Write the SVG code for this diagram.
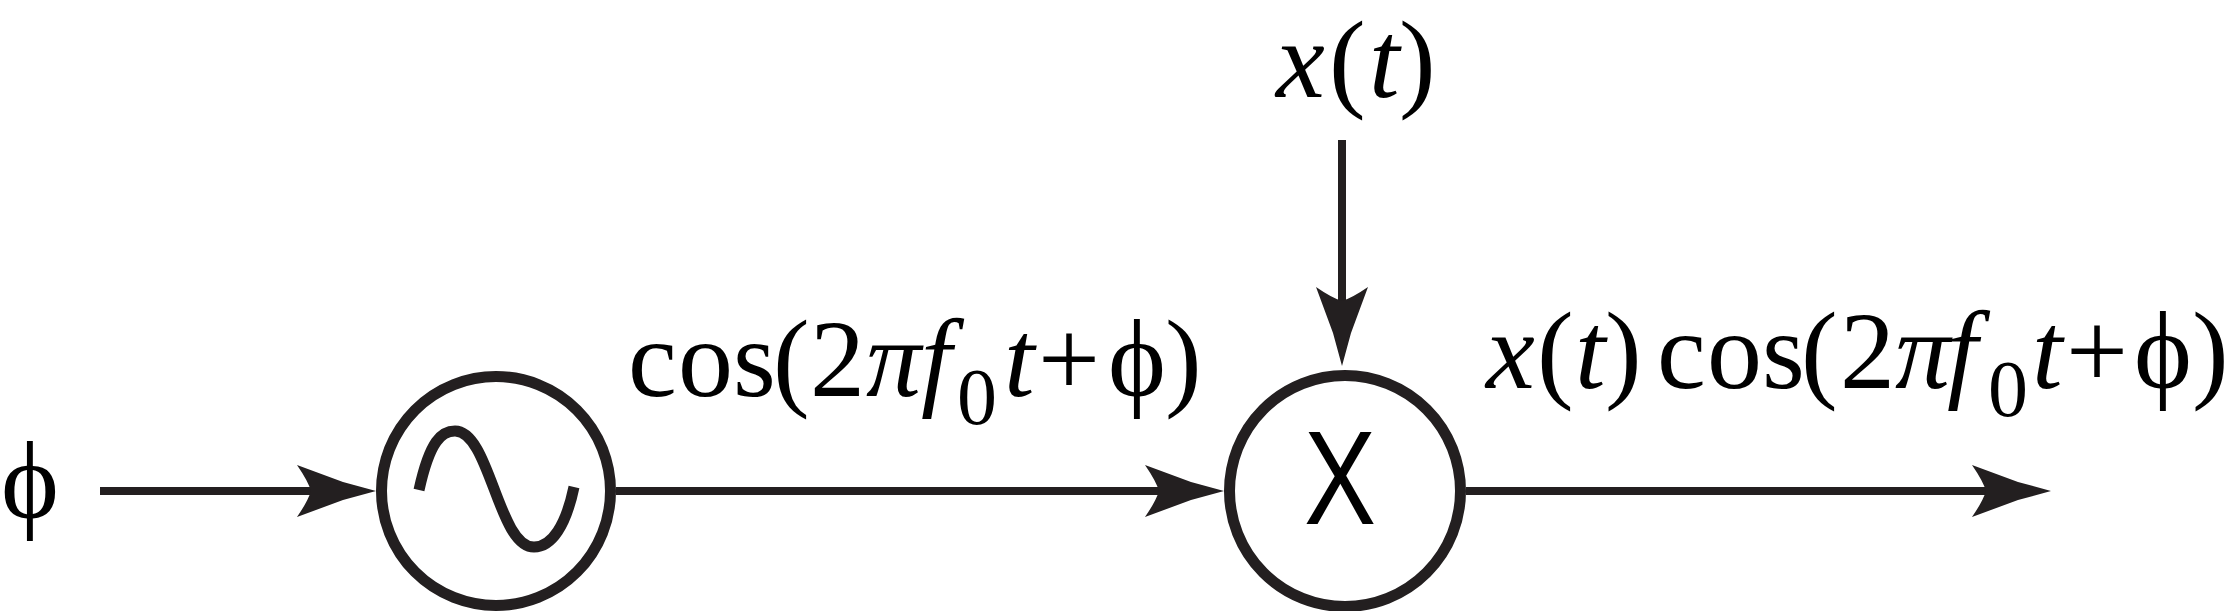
<svg xmlns="http://www.w3.org/2000/svg" width="2236" height="611" viewBox="0 0 2236 611">
<defs>
<marker id="a" markerUnits="userSpaceOnUse" viewBox="-85 -30 90 60" refX="-60" refY="0" markerWidth="90" markerHeight="60" orient="auto" overflow="visible">
<path d="M0 0L-33 -9L-79 -26Q-68 -10 -65 0Q-68 10 -79 26L-33 9Z" fill="#231f20"/>
</marker>
</defs>
<rect width="2236" height="611" fill="#fff"/>
<g id="connectors" fill="none" stroke="#231f20" stroke-width="8" marker-end="url(#a)">
<path d="M100 491H316"/>
<path d="M616 491H1164"/>
<path d="M1466 491H1991"/>
<path d="M1342 140V306"/>
</g>
<g id="oscillator">
<circle fill="#fff" stroke="#231f20" stroke-width="11" cx="496" cy="491" r="114.5"/>
<path fill="none" stroke="#231f20" stroke-width="11" d="M419 490C430 440 442 431 455 431C490 431 498 547 534 547C552 547 566 525 574 487"/>
</g>
<g id="multiplier">
<circle fill="#fff" stroke="#231f20" stroke-width="11" cx="1345" cy="491" r="115.5"/>
<text x="1304" y="524" font-family="Liberation Sans" font-size="134" textLength="72" lengthAdjust="spacingAndGlyphs">X</text>
</g>
<text id="label-phi" font-family="Liberation Serif" font-size="110" x="1" y="518">ϕ</text>
<g id="label-x" font-family="Liberation Serif" font-size="110">
<text y="97" font-style="italic" x="1276">x</text>
<text y="97" x="1329">(</text>
<text y="97" font-style="italic" x="1369">t</text>
<text y="97" x="1399">)</text>
</g>
<g id="label-cos" font-family="Liberation Serif" font-size="110">
<text y="396" x="628 678 733 773 810">cos(2</text>
<text y="396" font-style="italic" x="866">π</text>
<text y="396" font-style="italic" x="921">f</text>
<text y="424" font-size="80" x="957">0</text>
<text y="396" font-style="italic" x="1004">t</text>
<text y="396" x="1038 1108 1165">+ϕ)</text>
</g>
<g id="label-out" font-family="Liberation Serif" font-size="110">
<text y="388" font-style="italic" x="1486">x</text>
<text y="388" x="1537">(</text>
<text y="388" font-style="italic" x="1575">t</text>
<text y="388" x="1605">)</text>
<text y="388" x="1657 1707 1762 1801 1840">cos(2</text>
<text y="388" font-style="italic" x="1895">π</text>
<text y="388" font-style="italic" x="1947">f</text>
<text y="416" font-size="80" x="1988">0</text>
<text y="388" font-style="italic" x="2032">t</text>
<text y="388" x="2066 2134 2192">+ϕ)</text>
</g>
</svg>
